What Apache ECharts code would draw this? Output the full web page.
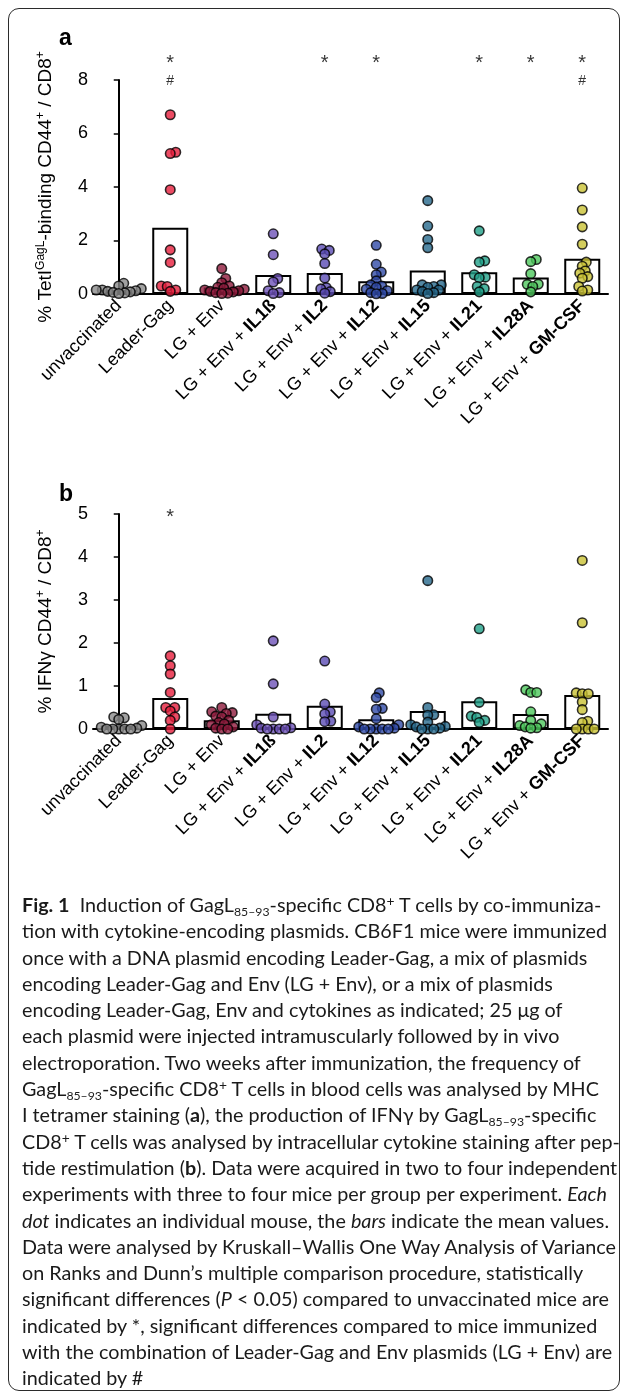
<!DOCTYPE html>
<html>
<head>
<meta charset="utf-8">
<script src="https://cdn.jsdelivr.net/npm/echarts@6/dist/echarts.min.js"></script>
<style>
  html, body { margin: 0; padding: 0; background: #fff; }
  #page { position: relative; width: 627px; height: 1398px; overflow: hidden; }
  #frame { position: absolute; left: 8px; top: 8px; width: 612px; height: 1383px;
           border: 1px solid #2b2b2b; border-radius: 11px; box-sizing: border-box; }
  #chart { position: absolute; left: 0; top: 0; width: 627px; height: 1398px; }
  #caption { position: absolute; left: 22px; top: 891px; font-family: Lato, "Open Sans", sans-serif;
             color: #1a1a1a; }
  #caption div { white-space: nowrap; height: 26.3px; line-height: 26.3px; }
  #caption sub { font-size: 0.62em; vertical-align: -0.3em; line-height: 0; }
  #caption sup { font-size: 0.7em; vertical-align: 0.45em; line-height: 0; }
  #caption b { font-weight: 700; }
</style>
</head>
<body>
<div id="page">
  <div id="chart"></div>
  <div id="caption">
    <div><b>Fig. 1</b>&nbsp; Induction of GagL<sub>85–93</sub>-specific CD8<sup>+</sup> T cells by co-immuniza-</div>
    <div>tion with cytokine-encoding plasmids. CB6F1 mice were immunized</div>
    <div>once with a DNA plasmid encoding Leader-Gag, a mix of plasmids</div>
    <div>encoding Leader-Gag and Env (LG + Env), or a mix of plasmids</div>
    <div>encoding Leader-Gag, Env and cytokines as indicated; 25 μg of</div>
    <div>each plasmid were injected intramuscularly followed by in vivo</div>
    <div>electroporation. Two weeks after immunization, the frequency of</div>
    <div>GagL<sub>85–93</sub>-specific CD8<sup>+</sup> T cells in blood cells was analysed by MHC</div>
    <div>I tetramer staining (<b>a</b>), the production of IFNγ by GagL<sub>85–93</sub>-specific</div>
    <div>CD8<sup>+</sup> T cells was analysed by intracellular cytokine staining after pep-</div>
    <div>tide restimulation (<b>b</b>). Data were acquired in two to four independent</div>
    <div>experiments with three to four mice per group per experiment. <i>Each</i></div>
    <div><i>dot</i> indicates an individual mouse, the <i>bars</i> indicate the mean values.</div>
    <div>Data were analysed by Kruskall–Wallis One Way Analysis of Variance</div>
    <div>on Ranks and Dunn’s multiple comparison procedure, statistically</div>
    <div>significant differences (<i>P</i> &lt; 0.05) compared to unvaccinated mice are</div>
    <div>indicated by *, significant differences compared to mice immunized</div>
    <div>with the combination of Leader-Gag and Env plasmids (LG + Env) are</div>
    <div>indicated by #</div>
  </div>
  <div id="frame"></div>
</div>
<script>
// Groups: base label plus the co-delivered cytokine (printed in bold)
const groupBase = ['unvaccinated', 'Leader-Gag', 'LG + Env', 'LG + Env + ', 'LG + Env + ', 'LG + Env + ',
                   'LG + Env + ', 'LG + Env + ', 'LG + Env + ', 'LG + Env + '];
const cytokines = ['', '', '', 'IL1ß', 'IL2', 'IL12', 'IL15', 'IL21', 'IL28A', 'GM-CSF'];
const groupColors = ['#8a8a8a', '#e61e3c', '#8e1a3c', '#6e52b8', '#5b4cb4', '#2f4aa6',
                     '#27698c', '#21a088', '#4ec85c', '#c9c235'];

// a: % TetI(GagL)-binding CD44+ of CD8+ cells, one value per mouse
const tetA_unvacc   = [0.4, 0.3, 0.2, 0.15, 0.12, 0.1, 0.08, 0.06, 0.04, 0.02, 0.15];
const tetA_leader   = [6.7, 5.3, 5.25, 3.9, 1.65, 1.18, 0.3, 0.28, 0.15, 0.1];
const tetA_lgEnv    = [0.95, 0.58, 0.42, 0.3, 0.25, 0.22, 0.18, 0.15, 0.12, 0.1, 0.08, 0.05, 0.03, 0.02];
const tetA_il1b     = [2.25, 1.47, 0.58, 0.45, 0.12, 0.05, 0.02];
const tetA_il2      = [1.68, 1.63, 1.5, 1.14, 0.6, 0.24, 0.19, 0.09, 0.03];
const tetA_il12     = [1.82, 1.11, 0.82, 0.72, 0.49, 0.34, 0.3, 0.25, 0.18, 0.12, 0.05, 0.02, 0.01];
const tetA_il15     = [3.49, 2.54, 2.04, 1.73, 0.34, 0.34, 0.28, 0.25, 0.15, 0.15, 0.1, 0.05, 0.02];
const tetA_il21     = [2.36, 1.24, 1.19, 0.72, 0.63, 0.61, 0.28, 0.2, 0.08];
const tetA_il28a    = [1.29, 1.21, 0.76, 0.37, 0.36, 0.28, 0.08];
const tetA_gmcsf    = [3.96, 3.14, 2.51, 1.86, 1.19, 1.04, 0.86, 0.78, 0.65, 0.59, 0.28, 0.15, 0.11];

// b: % IFNγ+ CD44+ of CD8+ cells after peptide restimulation
const ifnB_unvacc   = [0.28, 0.26, 0.22, 0.08, 0.04, 0.02, 0, 0, 0, 0, 0];
const ifnB_leader   = [1.7, 1.47, 1.28, 0.85, 0.5, 0.5, 0.42, 0.28, 0.2, 0];
const ifnB_lgEnv    = [0.5, 0.4, 0.38, 0.36, 0.3, 0.28, 0.2, 0.15, 0.12, 0.1, 0.05, 0.02, 0, 0];
const ifnB_il1b     = [2.05, 1.05, 0.28, 0.1, 0.03, 0.02, 0, 0, 0, 0];
const ifnB_il2      = [1.58, 0.58, 0.4, 0.35, 0.18, 0.17];
const ifnB_il12     = [0.84, 0.73, 0.48, 0.46, 0.24, 0.1, 0.05, 0.02, 0, 0, 0, 0, 0];
const ifnB_il15     = [3.45, 0.5, 0.33, 0.32, 0.16, 0.1, 0.06, 0.05, 0.02, 0, 0, 0];
const ifnB_il21     = [2.33, 0.62, 0.3, 0.27, 0.2, 0.15];
const ifnB_il28a    = [0.91, 0.85, 0.85, 0.4, 0.2, 0.12, 0.08, 0.05, 0.03, 0.02];
const ifnB_gmcsf    = [3.92, 2.47, 0.84, 0.82, 0.82, 0.63, 0.45, 0.18, 0.15, 0, 0, 0, 0];

// Significance flags per group: * vs unvaccinated, # vs LG + Env
const starA = [0, 1, 0, 0, 1, 1, 0, 1, 1, 1];
const hashA = [0, 1, 0, 0, 0, 0, 0, 0, 0, 1];
const starB = [0, 1, 0, 0, 0, 0, 0, 0, 0, 0];

const yTicksA = { min: 0, max: 8, interval: 2 };
const yTicksB = { min: 0, max: 5, interval: 1 };

const tetA = [tetA_unvacc, tetA_leader, tetA_lgEnv, tetA_il1b, tetA_il2, tetA_il12, tetA_il15, tetA_il21, tetA_il28a, tetA_gmcsf];
const ifnB = [ifnB_unvacc, ifnB_leader, ifnB_lgEnv, ifnB_il1b, ifnB_il2, ifnB_il12, ifnB_il15, ifnB_il21, ifnB_il28a, ifnB_gmcsf];

// ---- layout ----
const FONT = '"Liberation Sans", Arial, sans-serif';
const gridA = { left: 93, top: 80, width: 515, height: 214, outerBoundsMode: 'none' };
const gridB = { left: 93, top: 514, width: 515, height: 215, outerBoundsMode: 'none' };
const DOT = 9.5;
const mean = a => a.reduce((s, v) => s + v, 0) / a.length;

// Beeswarm: spread each group's dots sideways, letting neighbours overlap a little
function swarm(values, pxPerUnit, minDist) {
  const order = values.map((v, i) => i).sort((a, b) => values[a] - values[b]);
  const placed = [];
  const off = new Array(values.length).fill(0);
  for (const i of order) {
    const y = values[i] * pxPerUnit;
    let x = 0;
    for (let k = 0; k < 400; k++) {
      const step = Math.ceil(k / 2) * 0.5;
      const cand = k % 2 ? step : -step;
      if (placed.every(p => Math.hypot(p.x - cand, p.y - y) >= minDist)) { x = cand; break; }
    }
    placed.push({ x, y });
    off[i] = x;
  }
  return off;
}

function dotSeries(groups, grid, ticks, xAxisIndex, yAxisIndex) {
  const pxY = grid.height / (ticks.max - ticks.min);
  const pxX = grid.width / groups.length;
  return groups.map((vals, g) => {
    const off = swarm(vals, pxY, 5.6);
    return {
      type: 'scatter', xAxisIndex, yAxisIndex, z: 5,
      symbol: 'circle', symbolSize: DOT,
      itemStyle: { color: groupColors[g], borderColor: '#000', borderWidth: 1.6 },
      data: vals.map((v, i) => [g + off[i] / pxX, v]),
      clip: false
    };
  });
}

function markSeries(flags, value, text, size, xAxisIndex, yAxisIndex) {
  return {
    type: 'scatter', xAxisIndex, yAxisIndex, z: 6, clip: false,
    symbolSize: 1, itemStyle: { color: 'rgba(0,0,0,0)' },
    label: { show: true, position: 'inside', formatter: text, color: '#000',
             fontSize: size, fontFamily: FONT },
    data: flags.map((f, g) => f ? [g, value] : null).filter(d => d)
  };
}

const labelRich = {
  n: { fontSize: 18, fontFamily: FONT, color: '#000' },
  b: { fontSize: 18, fontFamily: FONT, color: '#000', fontWeight: 'bold' }
};
const groupLabels = groupBase.map((b, i) => i);

function catAxis(gridIndex) {
  return {
    type: 'category', gridIndex, data: groupLabels, boundaryGap: true,
    axisLine: { lineStyle: { color: '#000', width: 2 } },
    axisTick: { alignWithLabel: true, length: 5, lineStyle: { color: '#000', width: 1.5 } },
    axisLabel: {
      interval: 0, rotate: 45, margin: 9, rich: labelRich,
      formatter: v => '{n|' + groupBase[v] + '}' + (cytokines[v] ? '{b|' + cytokines[v] + '}' : '')
    }
  };
}
function jitterAxis(gridIndex) {
  return { type: 'value', gridIndex, min: -0.5, max: 9.5, show: false };
}
function valAxis(gridIndex, ticks, name) {
  return {
    type: 'value', gridIndex, min: ticks.min, max: ticks.max, interval: ticks.interval,
    axisLine: { show: true, lineStyle: { color: '#000', width: 2 } },
    axisTick: { show: true, length: 5, lineStyle: { color: '#000', width: 1.5 } },
    splitLine: { show: false },
    axisLabel: { color: '#000', fontSize: 18, fontFamily: FONT, margin: 5 },
    name, nameLocation: 'middle', nameRotate: 90, nameGap: 36,
    nameTextStyle: {
      rich: {
        t: { fontSize: 19, fontFamily: FONT, color: '#000', lineHeight: 22 },
        s: { fontSize: 12, fontFamily: FONT, color: '#000', lineHeight: 12, verticalAlign: 'top' }
      }
    }
  };
}

const chart = echarts.init(document.getElementById('chart'), null, { renderer: 'canvas' });
chart.setOption({
  animation: false,
  backgroundColor: 'transparent',
  grid: [gridA, gridB],
  xAxis: [catAxis(0), catAxis(1), jitterAxis(0), jitterAxis(1)],
  yAxis: [
    valAxis(0, yTicksA, '{t|% TetI}{s|GagL}{t|-binding CD44}{s|+}{t| / CD8}{s|+}'),
    valAxis(1, yTicksB, '{t|% IFNγ CD44}{s|+}{t| / CD8}{s|+}')
  ],
  graphic: [
    { type: 'text', left: 59, top: 27, style: { text: 'a', font: 'bold 23px ' + FONT, fill: '#000' } },
    { type: 'text', left: 59, top: 483, style: { text: 'b', font: 'bold 23px ' + FONT, fill: '#000' } }
  ],
  series: [
    { type: 'bar', xAxisIndex: 0, yAxisIndex: 0, barWidth: 36, z: 2,
      itemStyle: { color: '#fff', borderColor: '#000', borderWidth: 2 },
      data: tetA.map(mean) },
    { type: 'bar', xAxisIndex: 1, yAxisIndex: 1, barWidth: 36, z: 2,
      itemStyle: { color: '#fff', borderColor: '#000', borderWidth: 2 },
      data: ifnB.map(mean) },
    ...dotSeries(tetA, gridA, yTicksA, 2, 0),
    ...dotSeries(ifnB, gridB, yTicksB, 3, 1),
    markSeries(starA, 8.6, '*', 20, 2, 0),
    markSeries(hashA, 7.95, '#', 14, 2, 0),
    markSeries(starB, 4.92, '*', 20, 3, 1)
  ]
});

// Fit caption type size to the measured column width
(function fitCaption() {
  const cap = document.getElementById('caption');
  const ctx = document.createElement('canvas').getContext('2d');
  ctx.font = '18px Lato';
  const w = ctx.measureText('tion with cytokine-encoding plasmids. CB6F1 mice were immunized').width;
  cap.style.fontSize = (18 * 586 / w).toFixed(2) + 'px';
})();
</script>
</body>
</html>
